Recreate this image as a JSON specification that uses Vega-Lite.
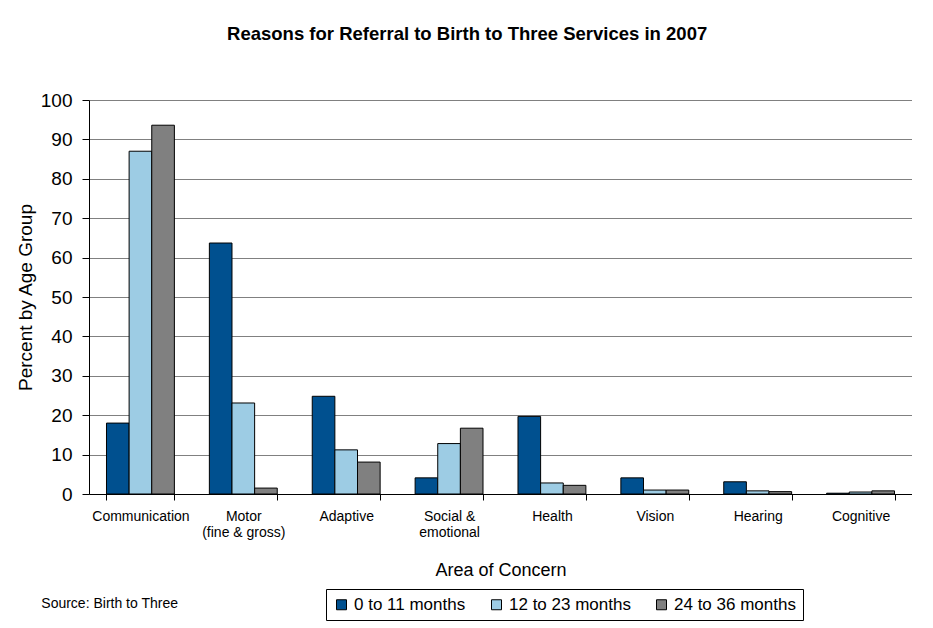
{
  "$schema": "https://vega.github.io/schema/vega-lite/v6.json",
  "padding": {"left": 16, "top": 24, "right": 0, "bottom": 0},
  "background": "white",
  "config": {
    "font": "Liberation Sans",
    "view": {"stroke": null}
  },
  "title": {
    "text": "Reasons for Referral to Birth to Three Services in 2007",
    "font": "Liberation Sans",
    "fontSize": 18.5,
    "fontWeight": "bold",
    "color": "#000000",
    "anchor": "middle",
    "dx": 3,
    "offset": 48
  },
  "vconcat": [
    {
      "width": 823,
      "height": 394,
      "title": {
        "text": "Source: Birth to Three",
        "orient": "bottom",
        "anchor": "start",
        "fontSize": 14,
        "fontWeight": "normal",
        "color": "#000000",
        "dx": 25,
        "offset": 18
      },
      "data": {
        "values": [
          {"area": "Communication", "age": "0 to 11 months", "pct": 18.0},
          {"area": "Communication", "age": "12 to 23 months", "pct": 87.0},
          {"area": "Communication", "age": "24 to 36 months", "pct": 93.6},
          {"area": "Motor (fine & gross)", "age": "0 to 11 months", "pct": 63.7},
          {"area": "Motor (fine & gross)", "age": "12 to 23 months", "pct": 23.1},
          {"area": "Motor (fine & gross)", "age": "24 to 36 months", "pct": 1.5},
          {"area": "Adaptive", "age": "0 to 11 months", "pct": 24.8},
          {"area": "Adaptive", "age": "12 to 23 months", "pct": 11.2},
          {"area": "Adaptive", "age": "24 to 36 months", "pct": 8.1},
          {"area": "Social & emotional", "age": "0 to 11 months", "pct": 4.1},
          {"area": "Social & emotional", "age": "12 to 23 months", "pct": 12.8},
          {"area": "Social & emotional", "age": "24 to 36 months", "pct": 16.7},
          {"area": "Health", "age": "0 to 11 months", "pct": 19.7},
          {"area": "Health", "age": "12 to 23 months", "pct": 2.8},
          {"area": "Health", "age": "24 to 36 months", "pct": 2.2},
          {"area": "Vision", "age": "0 to 11 months", "pct": 4.1},
          {"area": "Vision", "age": "12 to 23 months", "pct": 1.0},
          {"area": "Vision", "age": "24 to 36 months", "pct": 1.0},
          {"area": "Hearing", "age": "0 to 11 months", "pct": 3.1},
          {"area": "Hearing", "age": "12 to 23 months", "pct": 0.8},
          {"area": "Hearing", "age": "24 to 36 months", "pct": 0.6},
          {"area": "Cognitive", "age": "0 to 11 months", "pct": 0.2},
          {"area": "Cognitive", "age": "12 to 23 months", "pct": 0.5},
          {"area": "Cognitive", "age": "24 to 36 months", "pct": 0.8}
        ]
      },
      "mark": {"type": "bar", "stroke": "#000000", "strokeWidth": 1},
      "encoding": {
        "x": {
          "field": "area",
          "type": "nominal",
          "sort": ["Communication", "Motor (fine & gross)", "Adaptive", "Social & emotional", "Health", "Vision", "Hearing", "Cognitive"],
          "scale": {"paddingInner": 0.34, "paddingOuter": 0.17},
          "axis": {
            "title": "Area of Concern",
            "titleFontSize": 18,
            "titleFontWeight": "normal",
            "titleColor": "#000000",
            "titlePadding": 22,
            "labelAngle": 0,
            "labelFontSize": 14,
            "labelColor": "#000000",
            "labelPadding": 9,
            "labelLineHeight": 16,
            "labelBaseline": "top",
            "labelExpr": "datum.value == 'Motor (fine & gross)' ? ['Motor', '(fine & gross)'] : datum.value == 'Social & emotional' ? ['Social &', 'emotional'] : datum.value",
            "tickBand": "extent",
            "tickSize": 6,
            "tickColor": "#000000",
            "domainColor": "#000000",
            "grid": false
          }
        },
        "xOffset": {
          "field": "age",
          "sort": ["0 to 11 months", "12 to 23 months", "24 to 36 months"]
        },
        "y": {
          "field": "pct",
          "type": "quantitative",
          "scale": {"domain": [0, 100]},
          "axis": {
            "title": "Percent by Age Group",
            "titleFontSize": 19,
            "titleFontWeight": "normal",
            "titleColor": "#000000",
            "titlePadding": 5,
            "values": [0, 10, 20, 30, 40, 50, 60, 70, 80, 90, 100],
            "labelFontSize": 19,
            "labelColor": "#000000",
            "labelPadding": 10,
            "tickSize": 7,
            "tickColor": "#000000",
            "domainColor": "#000000",
            "gridColor": "#808080",
            "gridWidth": 1
          }
        },
        "color": {
          "field": "age",
          "type": "nominal",
          "scale": {
            "domain": ["0 to 11 months", "12 to 23 months", "24 to 36 months"],
            "range": ["#00508F", "#9DCCE4", "#808080"]
          },
          "legend": {
            "title": null,
            "orient": "none",
            "direction": "horizontal",
            "legendX": 237,
            "legendY": 489,
            "strokeColor": "#000000",
            "padding": 7,
            "symbolType": "square",
            "symbolSize": 100,
            "symbolStrokeColor": "#000000",
            "symbolStrokeWidth": 1,
            "labelFontSize": 17,
            "labelColor": "#000000",
            "labelOffset": 4,
            "columnPadding": 22
          }
        }
      }
    }
  ]
}
